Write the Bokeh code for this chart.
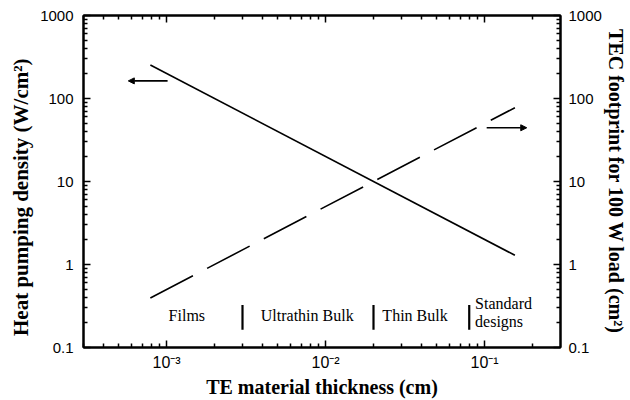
from bokeh.plotting import figure
from bokeh.models import (LogAxis, FixedTicker, Arrow, NormalHead, ColumnDataSource,
                          Range1d)
from bokeh.core.properties import value
from bokeh.embed import file_html
from bokeh.resources import INLINE

# ---- data ----
thickness = [7.9e-4, 0.155]          # cm
heat_density = [253.0, 1.29]         # W/cm^2 (left axis, solid)
footprint = [0.395, 77.5]            # cm^2 (right axis, dashed)

region_names = ["Films", "Ultrathin Bulk", "Thin Bulk"]
region_x = [1.34e-3, 7.66e-3, 0.0365]
region_y = [0.241, 0.241, 0.241]
std_label = ["Standard", "designs"]
std_x = [0.0871, 0.0871]
std_y = [0.335, 0.205]
divider_x = [0.003, 0.02, 0.08]
divider_y0 = [0.164, 0.164, 0.164]
divider_y1 = [0.326, 0.326, 0.326]

x_major = [1e-3, 1e-2, 1e-1]
x_major_labels = ["10\u207b\u00b3", "10\u207b\u00b2", "10\u207b\u00b9"]
x_minor = [m * 10.0 ** e for e in (-4, -3, -2, -1) for m in range(2, 10)]
y_major = [0.1, 1, 10, 100, 1000]
y_major_labels = ["0.1", "1", "10", "100", "1000"]
y_minor = [m * 10.0 ** e for e in (-1, 0, 1, 2) for m in range(2, 10)]

left_arrow = dict(x_start=1.014e-3, x_end=5.74e-4, y=163.0)
right_arrow = dict(x_start=0.103, x_end=0.184, y=44.4)

SERIF = "Liberation Serif"
SANS = "Liberation Sans"

p = figure(width=630, height=400, x_axis_type="log", y_axis_type="log",
           x_range=Range1d(3e-4, 0.3), y_range=Range1d(0.1, 1000),
           output_backend="svg", toolbar_location=None,
           min_border_left=83, min_border_right=70, min_border_top=15,
           min_border_bottom=50)
p.grid.visible = False
p.outline_line_color = "black"
p.outline_line_width = 2
p.background_fill_color = "white"
p.border_fill_color = "white"

p.line(thickness, heat_density, line_color="black", line_width=1.6)
p.line(thickness, footprint, line_color="black", line_width=1.6, line_dash="48 16")

src = ColumnDataSource(dict(x=divider_x, y0=divider_y0, y1=divider_y1))
p.segment(x0="x", x1="x", y0="y0", y1="y1", source=src, line_color="black", line_width=2.2)

p.text(region_x, region_y, text=region_names, text_font=value(SERIF),
       text_font_size="16px", text_align="center", text_baseline="middle",
       text_color="black")
p.text(std_x, std_y, text=std_label, text_font=value(SERIF),
       text_font_size="16px", text_align="left", text_baseline="middle",
       text_color="black")

for a in (left_arrow, right_arrow):
    p.add_layout(Arrow(end=NormalHead(size=6, fill_color="black", line_color="black"),
                       x_start=a["x_start"], y_start=a["y"], x_end=a["x_end"], y_end=a["y"],
                       line_color="black", line_width=1.6))

def style(ax, labels=True):
    ax.axis_line_width = 2
    ax.major_tick_in = 7
    ax.major_tick_out = 0
    ax.minor_tick_in = 4
    ax.minor_tick_out = 0
    ax.major_tick_line_width = 1.5
    ax.minor_tick_line_width = 1.5
    ax.major_label_text_font = SANS
    ax.major_label_text_font_size = "15px"
    ax.major_label_text_color = "black"
    ax.axis_label_text_font = SERIF
    ax.axis_label_text_font_style = "bold"
    ax.axis_label_text_font_size = "20px"
    ax.axis_label_text_color = "black"
    if not labels:
        ax.major_label_text_font_size = "1px"
        ax.major_label_text_alpha = 0
        ax.major_label_standoff = 0

xt = FixedTicker(ticks=x_major, minor_ticks=x_minor)
yt = FixedTicker(ticks=y_major, minor_ticks=y_minor)

xb = p.xaxis[0]
xb.ticker = xt
xb.major_label_overrides = dict(zip(x_major, x_major_labels))
xb.axis_label = "TE material thickness (cm)"
style(xb)
xb.major_label_text_font_size = "16px"
xb.major_label_standoff = 6
xb.axis_label_standoff = 2

yl = p.yaxis[0]
yl.ticker = yt
yl.major_label_overrides = dict(zip(y_major, y_major_labels))
yl.axis_label = "Heat pumping density (W/cm\u00b2)" + "\u00a0" * 6
style(yl)
yl.axis_label_text_font_size = "21px"
yl.major_label_standoff = 10
yl.axis_label_standoff = 4

yr = LogAxis(ticker=FixedTicker(ticks=y_major, minor_ticks=y_minor))
yr.major_label_overrides = dict(zip(y_major, y_major_labels))
yr.axis_label = "TEC footprint for 100 W load (cm\u00b2)"
style(yr)
yr.major_label_standoff = 8
yr.axis_label_standoff = 0
p.add_layout(yr, "right")

xa = LogAxis(ticker=FixedTicker(ticks=x_major, minor_ticks=x_minor))
style(xa, labels=False)
p.add_layout(xa, "above")

open("out.html", "w").write(file_html(p, INLINE))
